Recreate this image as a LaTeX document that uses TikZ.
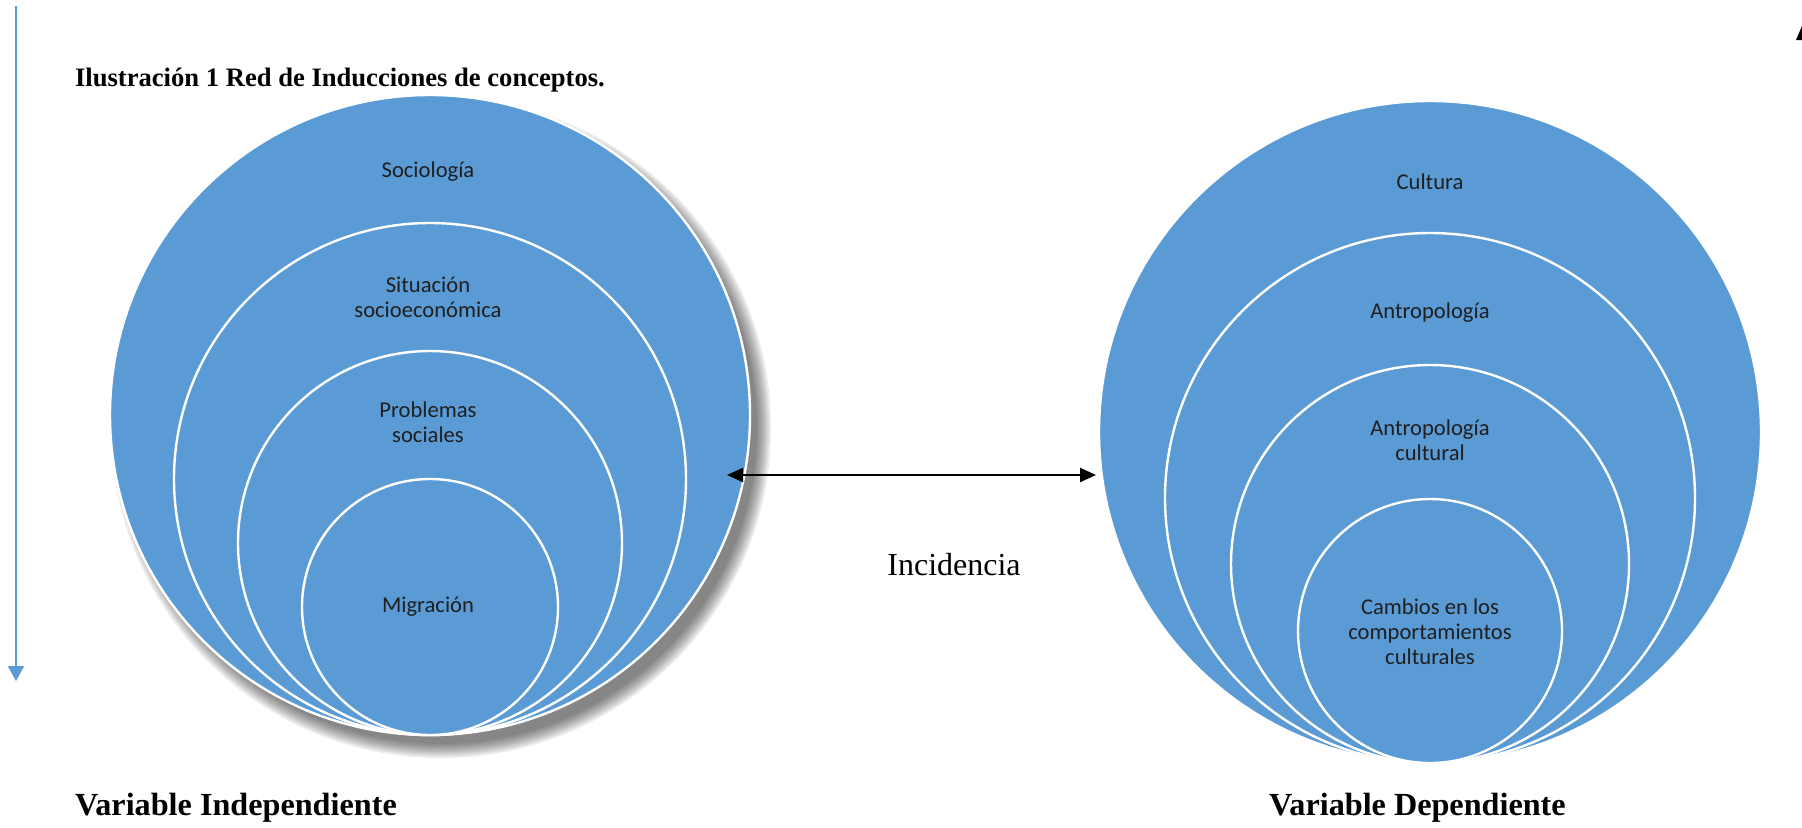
\documentclass[tikz,border=0pt]{standalone}
\usepackage{fontspec}
\setmainfont{Liberation Serif}
\newfontfamily\calibri{Carlito}
\usetikzlibrary{arrows.meta}
\definecolor{officeblue}{RGB}{91,155,213}

\begin{document}
\begin{tikzpicture}[x=0.5pt, y=-0.5pt,
    ring/.style={circle, fill=officeblue, draw=white, line width=1.2pt, inner sep=0pt, minimum size=#1},
    ringlabel/.style={font=\calibri\fontsize{11.3}{12.6}\selectfont, align=center, text=black!88},
    varlabel/.style={font=\bfseries\fontsize{16.1}{19}\selectfont, anchor=west}]
  \useasboundingbox (0,0) rectangle (1802,827);

  % soft shadow of the left circle
  \foreach \s in {0,2,...,14}
    \fill[black, opacity=0.08] (441,428) circle[radius={(330-\s)*0.5pt}];

  % nested circles
  \foreach \r/\n in {320/soc, 256/sit, 192/pro, 128/mig}
    \node[ring=\r pt] (\n) at (430,{735-\r}) {};
  \foreach \r/\n in {331/cul, 265/ant, 199/acu, 132/cam}
    \node[ring=\r pt] (\n) at (1430,{763-\r}) {};

  \node[ringlabel] (soctext) at (428,172) {Sociología};
  \node[ringlabel] (sittext) at (428,297) {Situación\\socioeconómica};
  \node[ringlabel] (protext) at (428,422) {Problemas\\sociales};
  \node[ringlabel] (migtext) at (428,607) {Migración};

  \node[ringlabel] (cultext) at (1430,182) {Cultura};
  \node[ringlabel] (anttext) at (1430,313) {Antropología};
  \node[ringlabel] (acutext) at (1430,440) {Antropología\\cultural};
  \node[ringlabel] (camtext) at (1430,632) {Cambios en los\\comportamientos\\culturales};

  % titles
  \node[anchor=west, font=\bfseries\fontsize{13.3}{16}\selectfont] (title) at (68,80)
    {Ilustración 1 Red de Inducciones de conceptos.};
  \node[varlabel] (indep) at (68,808) {Variable Independiente};
  \node[varlabel] (dep) at (1262,808) {Variable Dependiente};
  \node[font=\fontsize{16}{19}\selectfont] (incid) at (954,565) {Incidencia};

  % connectors
  \coordinate (tipL) at (727,475);
  \coordinate (tipR) at (1096,475);
  \draw[{Triangle[length=8pt,width=7pt]}-{Triangle[length=8pt,width=7pt]}, line width=1.1pt] (tipL) -- (tipR);

  \coordinate (margintop) at (16,6);
  \coordinate (marginend) at (16,681);
  \draw[officeblue, line width=1pt, -{Triangle[length=7.5pt,width=8pt]}] (margintop) -- (marginend);

  \fill (1796,40) -- (1802,26) -- (1802,40) -- cycle;
\end{tikzpicture}
\end{document}
